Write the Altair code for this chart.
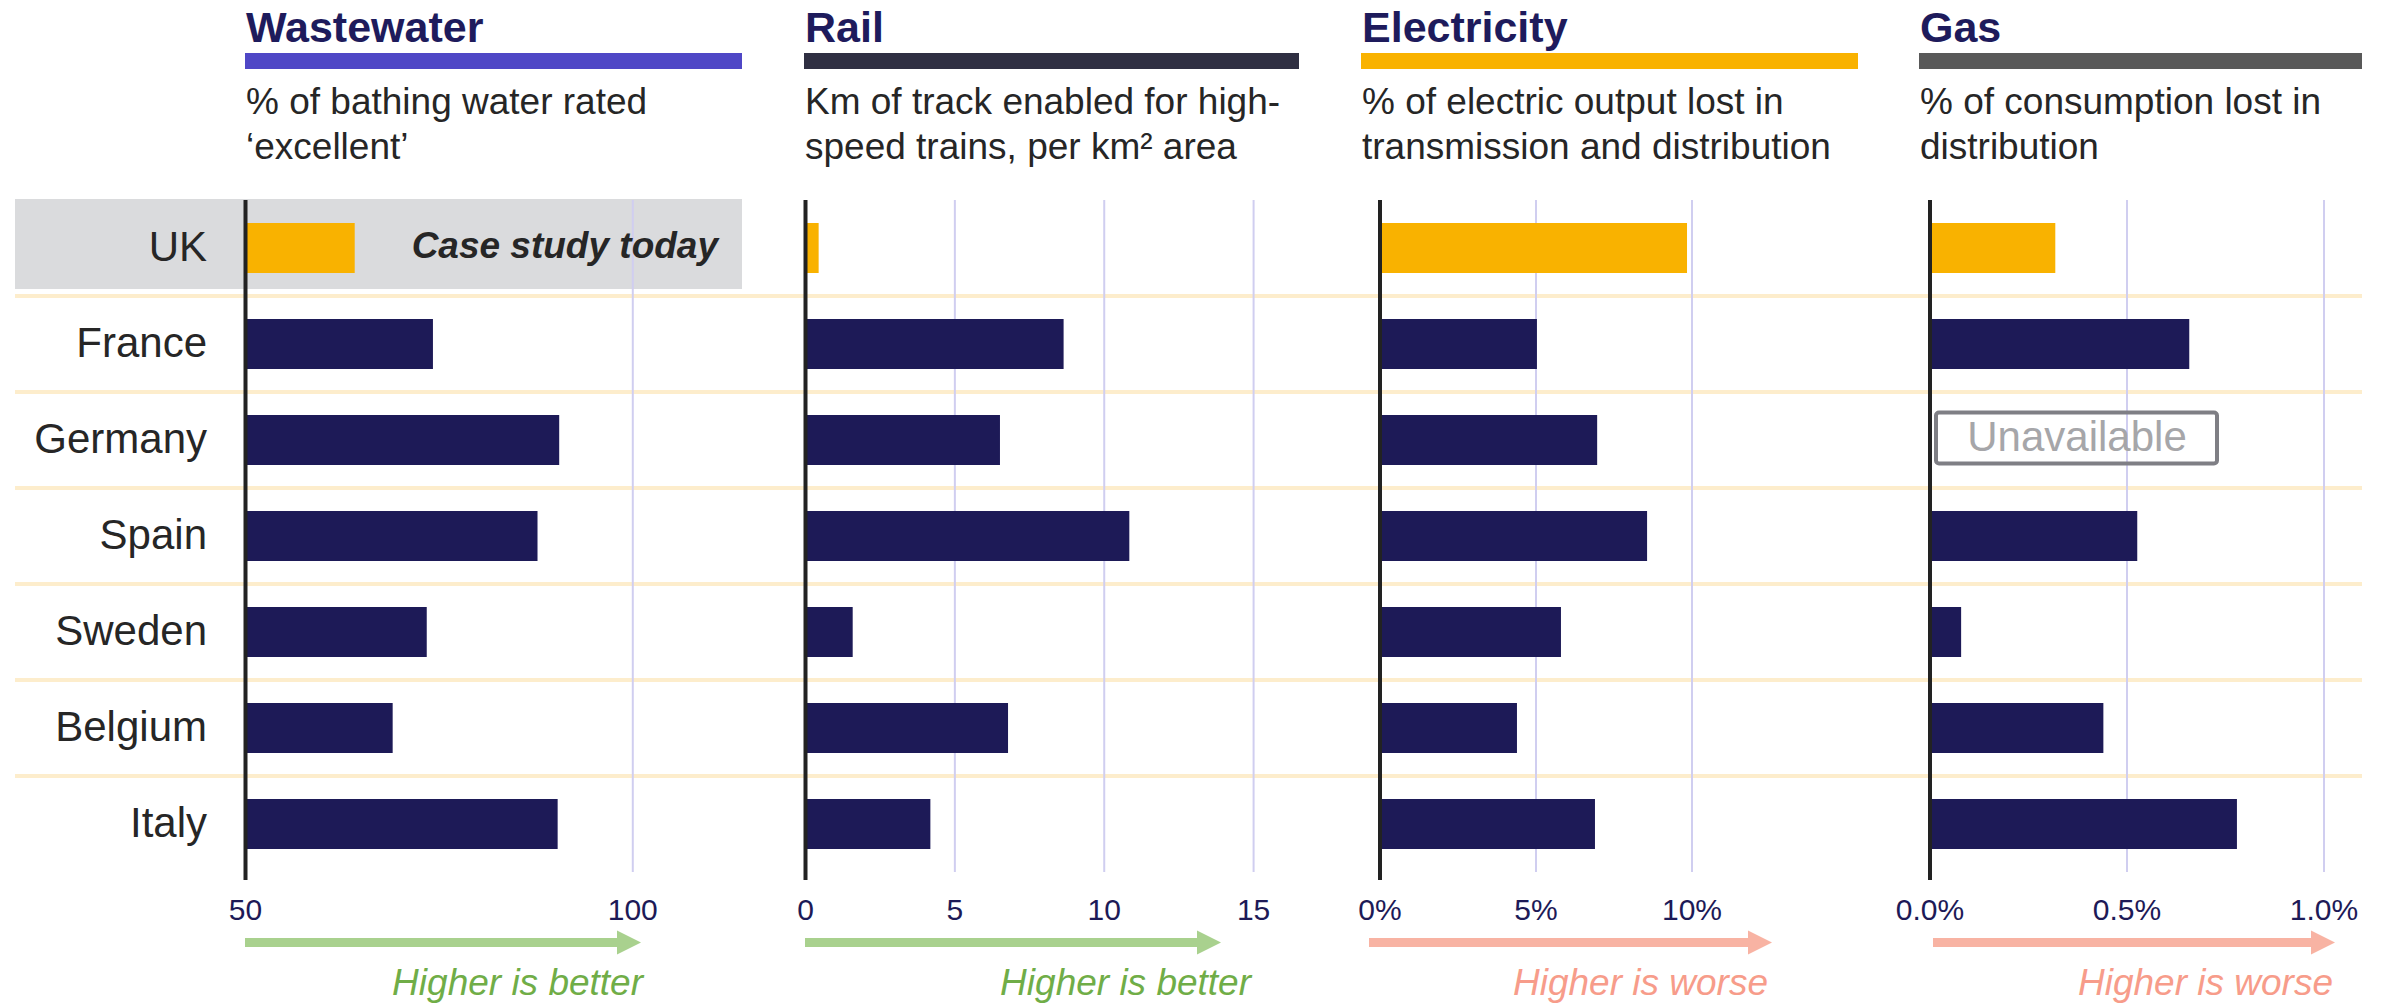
import altair as alt
import pandas as pd

# ---------------- data ----------------
countries = ["UK", "France", "Germany", "Spain", "Sweden", "Belgium", "Italy"]
wastewater = [64.1, 74.2, 90.5, 87.7, 73.4, 69.0, 90.3]      # % bathing water rated excellent
rail = [0.44, 8.64, 6.51, 10.84, 1.58, 6.78, 4.18]             # km high-speed track per km2 (scaled)
electricity = [9.84, 5.03, 6.96, 8.56, 5.80, 4.39, 6.89]       # % output lost
gas = [0.318, 0.658, None, 0.526, 0.079, 0.440, 0.779]         # % consumption lost

panel_titles = ["Wastewater", "Rail", "Electricity", "Gas"]
subtitle_line1 = ["% of bathing water rated", "Km of track enabled for high-",
                  "% of electric output lost in", "% of consumption lost in"]
subtitle_line2 = ["\u2018excellent\u2019", "speed trains, per km\u00b2 area",
                  "transmission and distribution", "distribution"]
tick_values = [[50, 100], [0, 5, 10, 15], [0, 5, 10], [0, 0.5, 1.0]]
tick_labels = [["50", "100"], ["0", "5", "10", "15"], ["0%", "5%", "10%"], ["0.0%", "0.5%", "1.0%"]]
direction_labels = ["Higher is better", "Higher is better", "Higher is worse", "Higher is worse"]
highlight_country = "UK"
highlight_label = "Case study today"
missing_label = "Unavailable"

series = [wastewater, rail, electricity, gas]

# ---------------- styles / layout ----------------
FONT = "Liberation Sans"
NAVY = "#1D1A57"
AMBER = "#F9B200"
GRID = "#D0CEF0"
SEP = "#FDEDCC"
TEXT = "#262626"
GOOD_ARROW, GOOD_TEXT = "#A9D18E", "#70AD47"
BAD_ARROW, BAD_TEXT = "#F8B3A3", "#F79C8A"

layout = [
    dict(domain=[50, 114.1], rng=[245.5, 742], head=[245, 742], hcol="#4F47C6", base=50,
         arrow=[245, 641], text_r=643, good=True),
    dict(domain=[0, 16.52], rng=[805.5, 1299], head=[804, 1299], hcol="#2F2F42", base=0,
         arrow=[805, 1221], text_r=1251, good=True),
    dict(domain=[0, 15.32], rng=[1380, 1858], head=[1361, 1858], hcol=AMBER, base=0,
         arrow=[1369, 1772], text_r=1768, good=False),
    dict(domain=[0, 1.0964], rng=[1930, 2362], head=[1919, 2362], hcol="#595959", base=0,
         arrow=[1933, 2335], text_r=2333, good=False),
]

Y_TOP, Y_BOT = 200, 872


def yenc():
    return alt.Y("country:N",
                 scale=alt.Scale(domain=countries, range=[Y_TOP, Y_BOT], paddingInner=0, paddingOuter=0),
                 axis=None)


def one(label):
    return pd.DataFrame({"label": [label]})


layers = []

# grey highlight band for the case-study row
layers.append(
    alt.Chart(pd.DataFrame({"country": [highlight_country]}))
    .mark_bar(height=90, color="#DADBDD", yOffset=-4)
    .encode(y=yenc(), x=alt.value(15), x2=alt.value(742))
)

# row separators
layers.append(
    alt.Chart(pd.DataFrame({"country": countries[:-1]}))
    .mark_rule(color=SEP, strokeWidth=4, yOffset=48)
    .encode(y=yenc(), x=alt.value(15), x2=alt.value(2362))
)


def panel(i):
    L = layout[i]
    sc = alt.Scale(domain=L["domain"], range=L["rng"], nice=False, zero=False)
    df = pd.DataFrame({"country": countries, "v": series[i]})
    ticks = pd.DataFrame({"t": tick_values[i], "lab": tick_labels[i]})
    grid = (
        alt.Chart(ticks)
        .transform_filter(alt.datum.t != L["base"])
        .mark_rule(color=GRID, strokeWidth=2)
        .encode(x=alt.X("t:Q", scale=sc, axis=None), y=alt.value(Y_TOP), y2=alt.value(Y_BOT))
    )
    bars = (
        alt.Chart(df)
        .transform_filter("isValid(datum.v)")
        .mark_bar(height=50)
        .encode(
            x=alt.X("v:Q", scale=sc, axis=None),
            x2=alt.datum(L["base"]),
            y=yenc(),
            color=alt.condition(alt.datum.country == highlight_country, alt.value(AMBER), alt.value(NAVY)),
        )
    )
    axis_line = (
        alt.Chart(pd.DataFrame({"t": [L["base"]]}))
        .mark_rule(color="#222222", strokeWidth=4)
        .encode(x=alt.X("t:Q", scale=sc, axis=None), y=alt.value(Y_TOP), y2=alt.value(880))
    )
    tlabels = (
        alt.Chart(ticks)
        .mark_text(font=FONT, fontSize=30, color=NAVY, align="center", baseline="alphabetic")
        .encode(x=alt.X("t:Q", scale=sc, axis=None), y=alt.value(920), text="lab:N")
    )
    return alt.layer(grid, bars, axis_line, tlabels)


for i in range(4):
    layers.append(panel(i))

# missing-value box (gas, Germany)
gas_df = pd.DataFrame({"country": countries, "v": gas})
gx0 = layout[3]["rng"][0]
layers.append(
    alt.Chart(gas_df)
    .transform_filter("!isValid(datum.v)")
    .mark_bar(height=51, filled=False, stroke="#7F7F85", strokeWidth=4, cornerRadius=3, yOffset=-2)
    .encode(y=yenc(), x=alt.value(gx0 + 6), x2=alt.value(gx0 + 287))
)
layers.append(
    alt.Chart(gas_df)
    .transform_filter("!isValid(datum.v)")
    .transform_calculate(label=f"'{missing_label}'")
    .mark_text(font=FONT, fontSize=42, color="#A6A6A9", align="center", baseline="middle", yOffset=-2)
    .encode(y=yenc(), x=alt.value(gx0 + 147), text="label:N")
)

# category labels
layers.append(
    alt.Chart(pd.DataFrame({"country": countries}))
    .mark_text(font=FONT, fontSize=42, color=TEXT, align="right", baseline="middle")
    .encode(y=yenc(), x=alt.value(207), text="country:N")
)

# case study label
layers.append(
    alt.Chart(pd.DataFrame({"country": [highlight_country], "label": [highlight_label]}))
    .mark_text(font=FONT, fontSize=37, fontStyle="italic", fontWeight="bold", color=TEXT,
               align="right", baseline="middle", yOffset=-1)
    .encode(y=yenc(), x=alt.value(718), text="label:N")
)

# headers, subtitles, arrows
for i in range(4):
    L = layout[i]
    hx0, hx1 = L["head"]
    layers.append(
        alt.Chart(one(panel_titles[i]))
        .mark_text(font=FONT, fontSize=43, fontWeight="bold", color="#1E1B5C", align="left", baseline="alphabetic")
        .encode(x=alt.value(hx0 + 1), y=alt.value(42), text="label:N")
    )
    layers.append(
        alt.Chart(one(panel_titles[i]))
        .mark_rect(color=L["hcol"])
        .encode(x=alt.value(hx0), x2=alt.value(hx1), y=alt.value(53), y2=alt.value(69))
    )
    for line, yy in ((subtitle_line1[i], 114), (subtitle_line2[i], 159)):
        layers.append(
            alt.Chart(one(line))
            .mark_text(font=FONT, fontSize=37, color=TEXT, align="left", baseline="alphabetic")
            .encode(x=alt.value(hx0 + 1), y=alt.value(yy), text="label:N")
        )
    acol = GOOD_ARROW if L["good"] else BAD_ARROW
    tcol = GOOD_TEXT if L["good"] else BAD_TEXT
    a0, a1 = L["arrow"]
    layers.append(
        alt.Chart(one(direction_labels[i]))
        .mark_rule(color=acol, strokeWidth=9, strokeCap="butt")
        .encode(x=alt.value(a0), x2=alt.value(a1 - 22), y=alt.value(942.5))
    )
    layers.append(
        alt.Chart(one(direction_labels[i]))
        .mark_point(shape="M -1 -1 L 1 0 L -1 1 Z", size=576, filled=True, opacity=1, color=acol)
        .encode(x=alt.value(a1 - 12), y=alt.value(942.5))
    )
    layers.append(
        alt.Chart(one(direction_labels[i]))
        .mark_text(font=FONT, fontSize=37, fontStyle="italic", color=tcol, align="right", baseline="alphabetic")
        .encode(x=alt.value(L["text_r"]), y=alt.value(995), text="label:N")
    )

chart = (
    alt.layer(*layers)
    .resolve_scale(x="independent")
    .properties(width=2384, height=1004, padding=0, background="white",
                autosize=alt.AutoSizeParams(type="none"))
    .configure_view(stroke=None)
)

chart.save("out.html", embed_options={"renderer": "svg", "actions": False})
